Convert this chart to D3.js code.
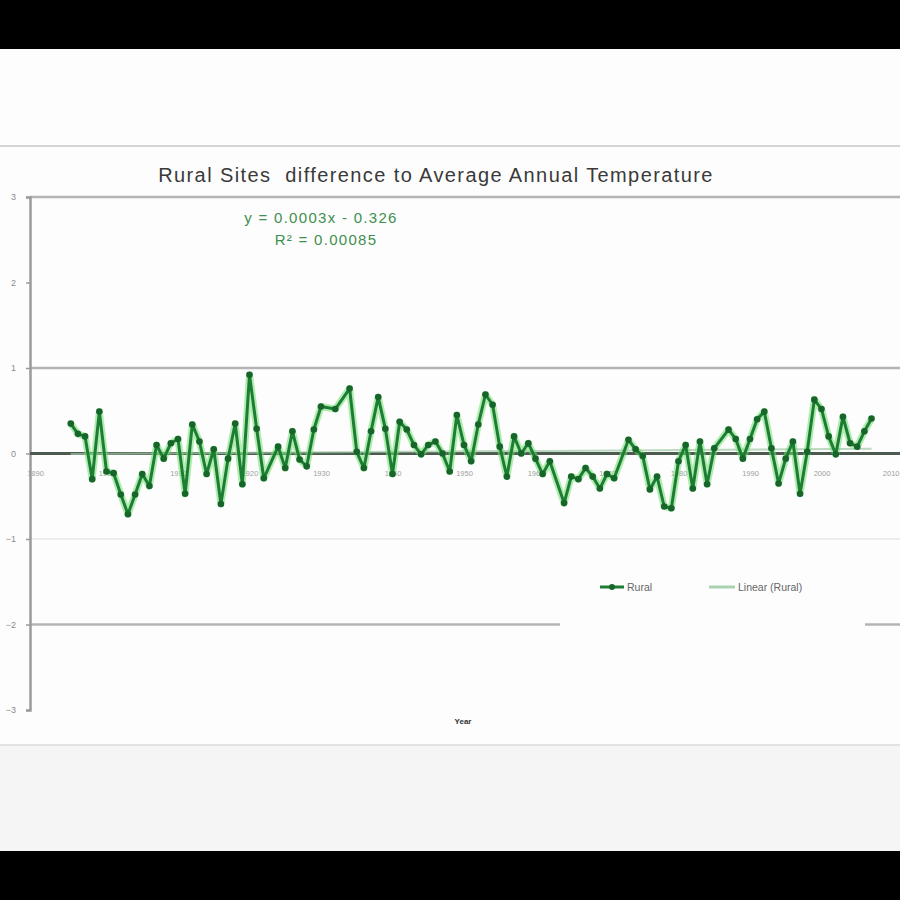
<!DOCTYPE html>
<html>
<head>
<meta charset="utf-8">
<script src="https://cdn.jsdelivr.net/npm/d3@7"></script>
<style>
  html, body { margin: 0; padding: 0; background: #000; }
  svg { display: block; }
  text { white-space: pre; }
</style>
</head>
<body>
<svg id="chart" width="900" height="900"></svg>
<script>
// ---- Data ----
const title = "Rural Sites  difference to Average Annual Temperature";
const equationLines = ["y = 0.0003x - 0.326", "R\u00B2 = 0.00085"];
const seriesName = "Rural";
const trendName = "Linear (Rural)";
const axisTitle = "Year";

const years = [
  1895,1896,1897,1898,1899,1900,1901,1902,1903,1904,1905,1906,1907,1908,1909,1910,
  1911,1912,1913,1914,1915,1916,1917,1918,1919,1920,1921,1922,1924,1925,1926,1927,
  1928,1929,1930,1932,1934,1935,1936,1937,1938,1939,1940,1941,1942,1943,1944,1945,
  1946,1947,1948,1949,1950,1951,1952,1953,1954,1955,1956,1957,1958,1959,1960,1961,
  1962,1964,1965,1966,1967,1968,1969,1970,1971,1973,1974,1975,1976,1977,1978,1979,
  1980,1981,1982,1983,1984,1985,1987,1988,1989,1990,1991,1992,1993,1994,1995,1996,
  1997,1998,1999,2000,2001,2002,2003,2004,2005,2006,2007
];
const rural = [
  0.35,0.23,0.20,-0.30,0.49,-0.21,-0.23,-0.48,-0.71,-0.48,-0.24,-0.38,0.10,-0.06,0.12,0.17,
  -0.47,0.34,0.14,-0.24,0.05,-0.59,-0.06,0.35,-0.36,0.92,0.29,-0.29,0.08,-0.17,0.26,-0.07,
  -0.15,0.28,0.55,0.52,0.76,0.02,-0.17,0.26,0.66,0.29,-0.24,0.37,0.28,0.10,-0.01,0.10,
  0.14,0.00,-0.21,0.45,0.10,-0.09,0.34,0.69,0.57,0.08,-0.27,0.20,0.00,0.12,-0.06,-0.24,
  -0.09,-0.58,-0.27,-0.30,-0.17,-0.27,-0.41,-0.24,-0.29,0.16,0.05,-0.03,-0.42,-0.27,-0.62,-0.64,
  -0.09,0.10,-0.41,0.14,-0.36,0.06,0.28,0.17,-0.06,0.17,0.40,0.49,0.06,-0.35,-0.06,0.14,
  -0.47,0.02,0.63,0.52,0.20,-0.01,0.43,0.12,0.08,0.26,0.41
];
const yTicks = [3, 2, 1, 0, -1, -2, -3];
const xTicks = [1890,1900,1910,1920,1930,1940,1950,1960,1970,1980,1990,2000,2010];
const strongGrid = [3, 1, -2];
const faintGrid = [-1];

// ---- Layout ----
const svg = d3.select("#chart");
const FONT = "Liberation Sans, Arial, sans-serif";
const L = 30, R = 893, T = 197, B = 710;

svg.append("rect").attr("x", 0).attr("y", 0).attr("width", 900).attr("height", 900).attr("fill", "#000");
svg.append("rect").attr("x", 0).attr("y", 49).attr("width", 900).attr("height", 802).attr("fill", "#fdfdfd");
svg.append("rect").attr("x", 0).attr("y", 745).attr("width", 900).attr("height", 106).attr("fill", "#f5f5f5");
svg.append("line").attr("x1", 0).attr("x2", 900).attr("y1", 146).attr("y2", 146)
  .attr("stroke", "#d4d4d4").attr("stroke-width", 2);
svg.append("line").attr("x1", 0).attr("x2", 900).attr("y1", 745).attr("y2", 745)
  .attr("stroke", "#e2e2e2").attr("stroke-width", 2);

const x = d3.scaleLinear().domain([1890, 2010]).range([35, R]);
const y = d3.scaleLinear().domain([-3, 3]).range([B, T]);

// title
svg.append("text").attr("x", 436).attr("y", 182).attr("text-anchor", "middle")
  .attr("font-family", FONT).attr("font-size", 20).attr("letter-spacing", 1.4)
  .attr("fill", "#3a3a3a").text(title);

// gridlines
svg.append("g").selectAll("line").data(strongGrid).join("line")
  .attr("x1", L).attr("x2", 900).attr("y1", d => y(d)).attr("y2", d => y(d))
  .attr("stroke", "#b4b4b4").attr("stroke-width", 2.5);
svg.append("g").selectAll("line").data(faintGrid).join("line")
  .attr("x1", L).attr("x2", 900).attr("y1", d => y(d)).attr("y2", d => y(d))
  .attr("stroke", "#ececec").attr("stroke-width", 2);

// y axis
const yAxis = d3.axisLeft(y).tickValues(yTicks).tickFormat(d3.format("d")).tickSize(4).tickPadding(10);
const yg = svg.append("g").attr("transform", `translate(${L},0)`).call(yAxis);
yg.select(".domain").attr("stroke", "#9a9a9a").attr("stroke-width", 2.5);
yg.selectAll(".tick line").attr("stroke", "#9a9a9a").attr("stroke-width", 1.5);
yg.selectAll(".tick text").attr("font-size", 9).attr("fill", "#8a8a8a").attr("font-family", FONT);

// x axis labels under the zero line
const xg = svg.append("g").attr("transform", `translate(0,${y(0)})`)
  .call(d3.axisBottom(x).tickValues(xTicks).tickFormat(d3.format("d")).tickSize(0).tickPadding(17));
xg.select(".domain").remove();
xg.selectAll(".tick text").attr("font-size", 7.5).attr("fill", "#a0a0a0").attr("font-family", FONT);
xg.selectAll(".tick").filter(d => d === xTicks[xTicks.length - 1]).select("text")
  .attr("text-anchor", "end").attr("dx", 6);

// zero axis line
svg.append("line").attr("x1", L).attr("x2", 900).attr("y1", y(0)).attr("y2", y(0))
  .attr("stroke", "#4d5a50").attr("stroke-width", 3);

// trend line (least squares fit of the series)
const data = years.map((yr, i) => ({ yr, v: rural[i] }));
const mx = d3.mean(years), my = d3.mean(rural);
const slope = d3.sum(data, d => (d.yr - mx) * (d.v - my)) / d3.sum(data, d => (d.yr - mx) ** 2);
const icpt = my - slope * mx;
const ends = d3.extent(years);
svg.append("line")
  .attr("x1", x(ends[0])).attr("x2", x(ends[1]))
  .attr("y1", y(icpt + slope * ends[0])).attr("y2", y(icpt + slope * ends[1]))
  .attr("stroke", "#9fc7a5").attr("stroke-width", 2).attr("opacity", 0.7);

// series line with glow
const line = d3.line().x(d => x(d.yr)).y(d => y(d.v));
svg.append("path").datum(data).attr("d", line).attr("fill", "none")
  .attr("stroke", "#6fe06f").attr("stroke-width", 7).attr("stroke-linejoin", "round").attr("opacity", 0.55);
svg.append("path").datum(data).attr("d", line).attr("fill", "none")
  .attr("stroke", "#1e7d34").attr("stroke-width", 3).attr("stroke-linejoin", "round");
svg.append("g").selectAll("circle").data(data).join("circle")
  .attr("cx", d => x(d.yr)).attr("cy", d => y(d.v)).attr("r", 3.3)
  .attr("fill", "#17652a");

// equation text
const eq = svg.append("g").attr("font-family", FONT).attr("font-size", 15)
  .attr("letter-spacing", 1.3).attr("fill", "#3f8f4e").attr("text-anchor", "middle");
eq.append("text").attr("x", 321).attr("y", 223).text(equationLines[0]);
eq.append("text").attr("x", 326).attr("y", 245).text(equationLines[1]);

// legend box (hides grid behind it)
svg.append("rect").attr("x", 560).attr("y", 558).attr("width", 305).attr("height", 100)
  .attr("fill", "#fdfdfd");
const lg = svg.append("g").attr("transform", "translate(0,587)")
  .attr("font-family", FONT).attr("font-size", 10.5).attr("fill", "#666");
lg.append("line").attr("x1", 600).attr("x2", 624).attr("y1", 0).attr("y2", 0)
  .attr("stroke", "#1e7d34").attr("stroke-width", 3);
lg.append("circle").attr("cx", 612).attr("cy", 0).attr("r", 3).attr("fill", "#17652a");
lg.append("text").attr("x", 627).attr("y", 4).text(seriesName);
lg.append("line").attr("x1", 709).attr("x2", 735).attr("y1", 0).attr("y2", 0)
  .attr("stroke", "#a9d3b0").attr("stroke-width", 3);
lg.append("text").attr("x", 738).attr("y", 4).text(trendName);

// x axis title
svg.append("text").attr("x", 463).attr("y", 724).attr("text-anchor", "middle")
  .attr("font-family", FONT).attr("font-size", 8)
  .attr("font-weight", "bold").attr("fill", "#333").text(axisTitle);
</script>
</body>
</html>
